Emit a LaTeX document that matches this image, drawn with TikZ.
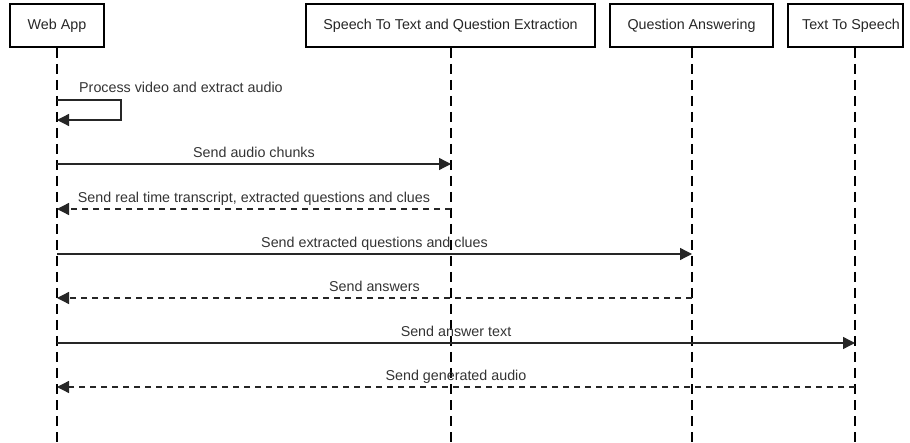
\documentclass[tikz,border=0pt]{standalone}
\usepackage{fontspec}
\setmainfont{Liberation Sans}
\usetikzlibrary{arrows.meta}
\begin{document}
\begin{tikzpicture}[x=1pt,y=-1pt,
  hdr/.style={draw=black, line width=2pt, minimum height=43pt, inner sep=0pt,
    font=\fontsize{14.3}{16}\selectfont, text=black!85},
  lbl/.style={font=\fontsize{14.3}{16}\selectfont, text=black!80, inner sep=0pt, anchor=base},
  life/.style={black, line width=1.1pt, dash pattern=on 10pt off 6pt},
  msg/.style={black!85, line width=1.3pt, -{Triangle[length=12pt,width=12pt]}},
  ret/.style={msg, dash pattern=on 6pt off 5pt}]
\useasboundingbox (0,0) rectangle (910,443);
% headers
\node[hdr, minimum width=94pt] (web) at (57,25.5) {Web App};
\node[hdr, minimum width=289pt] (stt) at (450.5,25.5) {Speech To Text and Question Extraction};
\node[hdr, minimum width=163pt] (qa) at (691.5,25.5) {Question Answering};
\node[hdr, minimum width=115pt] (tts) at (845.5,25.5) {};
\node[font=\fontsize{14.3}{16}\selectfont, text=black!85] (ttst) at (851,25.5) {Text To Speech};
% lifelines
\coordinate (webE) at (57,443);
\coordinate (sttE) at (451,443);
\coordinate (qaE) at (692,443);
\coordinate (ttsE) at (855,443);
\draw[life] (57,48) -- (webE);
\draw[life] (451,48) -- (sttE);
\draw[life] (692,48) -- (qaE);
\draw[life] (855,48) -- (ttsE);
% self message
\coordinate (s1) at (57,100);
\coordinate (s2) at (121,100);
\coordinate (s3) at (121,120);
\coordinate (s4) at (57,120);
\draw[msg] (s1) -- (s2) -- (s3) -- (s4);
\node[lbl, anchor=base west] (sl) at (79,93) {Process video and extract audio};
% messages
\coordinate (a1) at (57,164);  \coordinate (b1) at (451,164);
\draw[msg] (a1) -- (b1) node[lbl, midway, yshift=6pt] {Send audio chunks};
\coordinate (a2) at (57,209);  \coordinate (b2) at (451,209);
\draw[ret] (b2) -- (a2) node[lbl, midway, yshift=6pt] {Send real time transcript, extracted questions and clues};
\coordinate (a3) at (57,254);  \coordinate (b3) at (692,254);
\draw[msg] (a3) -- (b3) node[lbl, midway, yshift=6pt] {Send extracted questions and clues};
\coordinate (a4) at (57,298);  \coordinate (b4) at (692,298);
\draw[ret] (b4) -- (a4) node[lbl, midway, yshift=6pt] {Send answers};
\coordinate (a5) at (57,343);  \coordinate (b5) at (855,343);
\draw[msg] (a5) -- (b5) node[lbl, midway, yshift=6pt] {Send answer text};
\coordinate (a6) at (57,387);  \coordinate (b6) at (855,387);
\draw[ret] (b6) -- (a6) node[lbl, midway, yshift=6pt] {Send generated audio};
\end{tikzpicture}
\end{document}
